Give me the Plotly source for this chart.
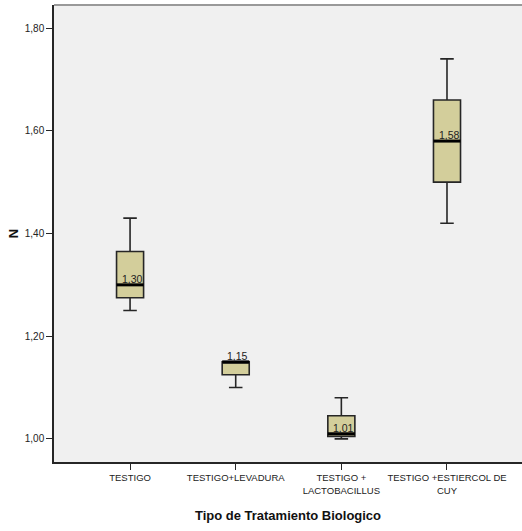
import plotly.graph_objects as go

# Treatment groups and their five-number summaries
categories = ["TESTIGO", "TESTIGO+LEVADURA", "TESTIGO +<br>LACTOBACILLUS", "TESTIGO +ESTIERCOL DE<br>CUY"]
lower_whisker = [1.25, 1.10, 1.00, 1.42]
q1_values = [1.275, 1.125, 1.005, 1.50]
medians = [1.30, 1.15, 1.01, 1.58]
q3_values = [1.365, 1.15, 1.045, 1.66]
upper_whisker = [1.43, 1.15, 1.08, 1.74]
median_labels = ["1,30", "1,15", "1,01", "1,58"]
y_ticks = [1.00, 1.20, 1.40, 1.60, 1.80]

BOX_W = 0.256
FILL = "#D3CE9B"
EDGE = "#262626"
FONT = "Liberation Sans Narrow, Liberation Sans, Arial, sans-serif"

positions = list(range(len(categories)))

fig = go.Figure()
for i in positions:
    fig.add_trace(go.Box(
        x=[i], q1=[q1_values[i]], median=[medians[i]], q3=[q3_values[i]],
        lowerfence=[lower_whisker[i]], upperfence=[upper_whisker[i]],
        width=BOX_W, whiskerwidth=0.5, fillcolor=FILL,
        line=dict(color=EDGE, width=1.6), boxpoints=False,
        showlegend=False, hoverinfo="skip",
    ))
    # heavy median bar
    fig.add_trace(go.Scatter(
        x=[i - BOX_W / 2, i + BOX_W / 2], y=[medians[i], medians[i]],
        mode="lines", line=dict(color="black", width=3),
        showlegend=False, hoverinfo="skip",
    ))
    fig.add_annotation(
        x=i + BOX_W / 2, y=medians[i], text=median_labels[i],
        xanchor="right", yanchor="bottom", showarrow=False,
        font=dict(family=FONT, size=10.5, color="#222"), xshift=1, yshift=-2,
    )

fig.update_layout(
    width=522, height=531,
    margin=dict(l=54, r=0, t=5, b=69),
    paper_bgcolor="white", plot_bgcolor="#F0F0F0",
    separators=",.",
    font=dict(family=FONT, size=10, color="#222"),
    xaxis=dict(
        range=[-0.72, 3.71], tickvals=positions, ticktext=categories,
        tickangle=0, automargin=False,
        ticks="outside", ticklen=6, tickcolor=EDGE, showgrid=False, zeroline=False,
        showline=True, linecolor=EDGE, linewidth=1.5, mirror=False,
        tickfont=dict(family=FONT, size=9.5, color="#222"),
        title=dict(text="<b>Tipo de Tratamiento Biologico</b>",
                   font=dict(family="Liberation Sans, Arial, sans-serif", size=13, color="#111"),
                   standoff=16),
    ),
    yaxis=dict(
        range=[0.955, 1.845], tickvals=y_ticks, tickformat=".2f", automargin=False,
        ticks="outside", ticklen=6, tickcolor=EDGE, showgrid=False, zeroline=False,
        showline=True, linecolor=EDGE, linewidth=1.5,
        tickfont=dict(family=FONT, size=10, color="#222"),
        title=dict(text="<b>N</b>", font=dict(family="Liberation Sans, Arial, sans-serif", size=13, color="#111"),
                   standoff=3),
    ),
    shapes=[dict(type="line", xref="paper", yref="paper", x0=0, x1=1, y0=1, y1=1,
                 line=dict(color="#999", width=2))],
)

fig.write_html("out.html")
